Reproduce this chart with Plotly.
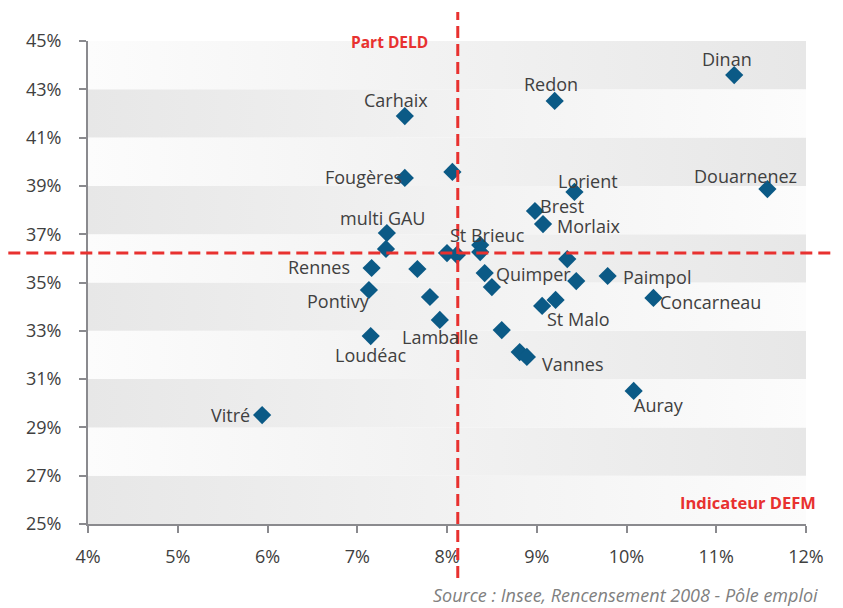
import plotly.graph_objects as go

# Zones d'emploi: indicateur DEFM (x, %) vs part DELD (y, %)
zones = ["Dinan", "Redon", "Carhaix", "Fougères", "", "Lorient", "Douarnenez",
         "Brest", "Morlaix", "multi GAU", "", "St Brieuc", "", "", "",
         "Rennes", "", "", "Quimper", "", "Paimpol", "", "Pontivy", "", "",
         "St Malo", "Concarneau", "Lamballe", "", "Loudéac", "", "Vannes",
         "Auray", "Vitré"]
defm = [11.20, 9.20, 7.53, 7.53, 8.06, 9.42, 11.57,
        8.98, 9.07, 7.33, 7.32, 8.37, 8.37, 8.00, 8.11,
        7.16, 7.67, 9.34, 8.42, 9.44, 9.79, 8.50, 7.13, 7.81, 9.21,
        9.06, 10.30, 7.92, 8.61, 7.15, 8.81, 8.89, 10.08, 5.94]
deld = [43.59, 42.52, 41.89, 39.33, 39.58, 38.75, 38.87,
        37.96, 37.42, 37.05, 36.39, 36.55, 36.26, 36.22, 36.14,
        35.60, 35.56, 35.97, 35.39, 35.06, 35.27, 34.81, 34.69, 34.40, 34.28,
        34.03, 34.36, 33.45, 33.03, 32.78, 32.12, 31.92, 30.51, 29.51]

# Regional reference values (dashed red lines)
ref_defm = 8.12
ref_deld = 36.22

x_ticks = [4, 5, 6, 7, 8, 9, 10, 11, 12]
y_ticks = [25, 27, 29, 31, 33, 35, 37, 39, 41, 43, 45]
x_labels = [f"{v}%" for v in x_ticks]
y_labels = [f"{v}%" for v in y_ticks]

# Label placement: anchor, x offset (px), y offset (px, up positive)
label_pos = {
    "Dinan": ("center", -7, 16), "Redon": ("center", -4, 17),
    "Carhaix": ("center", -9, 16), "Fougères": ("right", -1, 1),
    "Lorient": ("center", 14, 11), "Douarnenez": ("center", -22, 13),
    "Brest": ("left", 3, 5), "Morlaix": ("left", 12, -2),
    "multi GAU": ("center", -4, 15), "St Brieuc": ("center", 7, 10),
    "Rennes": ("right", -20, 1), "Quimper": ("left", 9, -1),
    "Paimpol": ("left", 13, -1), "Pontivy": ("right", 3, -11),
    "Concarneau": ("left", 5, -4), "St Malo": ("left", 3, -13),
    "Lamballe": ("center", 0, -17), "Loudéac": ("center", 0, -19),
    "Vannes": ("left", 13, -7), "Auray": ("left", -2, -14),
    "Vitré": ("right", -10, 0),
}

xmin, xmax = x_ticks[0], x_ticks[-1]
ymin, ymax = y_ticks[0], y_ticks[-1]

fig = go.Figure()

# Alternating horizontal gradient bands
light, dark = "#fcfcfc", "#e7e7e7"
for i, y0 in enumerate(y_ticks[:-1]):
    y1 = y0 + 2
    scale = [[0, light], [1, dark]] if i % 2 == 1 else [[0, dark], [1, light]]
    fig.add_trace(go.Scatter(
        x=[xmin, xmax, xmax, xmin, xmin], y=[y0, y0, y1, y1, y0],
        mode="none", fill="toself",
        fillgradient=dict(type="horizontal", colorscale=scale),
        hoverinfo="skip", showlegend=False))

fig.add_trace(go.Scatter(
    x=defm, y=deld, mode="markers", text=zones,
    marker=dict(symbol="diamond", size=14, color="#0b5a86",
                line=dict(width=0)),
    hovertemplate="%{text}<br>DEFM %{x}%<br>DELD %{y}%<extra></extra>",
    showlegend=False))

annotations = []
for name, xv, yv in zip(zones, defm, deld):
    if not name:
        continue
    anchor, dx, dy = label_pos[name]
    annotations.append(dict(
        x=xv, y=yv, xref="x", yref="y", text=name, showarrow=False,
        xanchor=anchor, yanchor="middle", xshift=dx, yshift=dy,
        font=dict(family="Open Sans", size=18, color="#404040")))

red = "#e8312f"
annotations += [
    dict(x=0.42, y=0.998, xref="paper", yref="paper", text="<b>Part DELD</b>",
         showarrow=False, xanchor="center", yanchor="middle",
         font=dict(family="Open Sans", size=15.5, color=red)),
    dict(x=0.919, y=0.0435, xref="paper", yref="paper",
         text="<b>Indicateur DEFM</b>", showarrow=False,
         xanchor="center", yanchor="middle",
         font=dict(family="Open Sans", size=16.5, color=red)),
    dict(x=1.02, y=-0.148, xref="paper", yref="paper",
         text="<i>Source : Insee, Rencensement 2008 - Pôle emploi</i>",
         showarrow=False, xanchor="right", yanchor="middle",
         font=dict(family="Open Sans", size=18, color="#808080")),
]

px_ref = (ref_defm - xmin) / (xmax - xmin)
py_ref = (ref_deld - ymin) / (ymax - ymin)
shapes = [
    # thin white separators between band pairs
    *[dict(type="line", xref="paper", yref="y", x0=0.002, x1=1, y0=v, y1=v,
           line=dict(color="white", width=3), layer="below")
      for v in (29, 33, 37, 41)],
    dict(type="line", xref="paper", yref="paper", x0=px_ref, x1=px_ref,
         y0=-0.112, y1=1.06, line=dict(color=red, width=3, dash="12px,6px")),
    dict(type="line", xref="paper", yref="paper", x0=-0.111, x1=1.04,
         y0=py_ref, y1=py_ref, line=dict(color=red, width=3, dash="12px,6px")),
]

axis_common = dict(showgrid=False, zeroline=False, showline=True,
                   linecolor="#8a8a8e", linewidth=2, ticks="outside",
                   tickcolor="#8a8a8e", tickwidth=2, ticklen=7,
                   tickfont=dict(family="Open Sans", size=18, color="#404040"))
fig.update_layout(
    width=843, height=608,
    margin=dict(l=88, r=37, t=41, b=84),
    paper_bgcolor="white", plot_bgcolor="white",
    xaxis=dict(range=[xmin, xmax], tickvals=x_ticks, ticktext=x_labels,
               ticklabelstandoff=8, **axis_common),
    yaxis=dict(range=[ymin, ymax], tickvals=y_ticks, ticktext=y_labels,
               ticklabelstandoff=14, **axis_common),
    annotations=annotations, shapes=shapes,
)

fig.write_html("out.html")
